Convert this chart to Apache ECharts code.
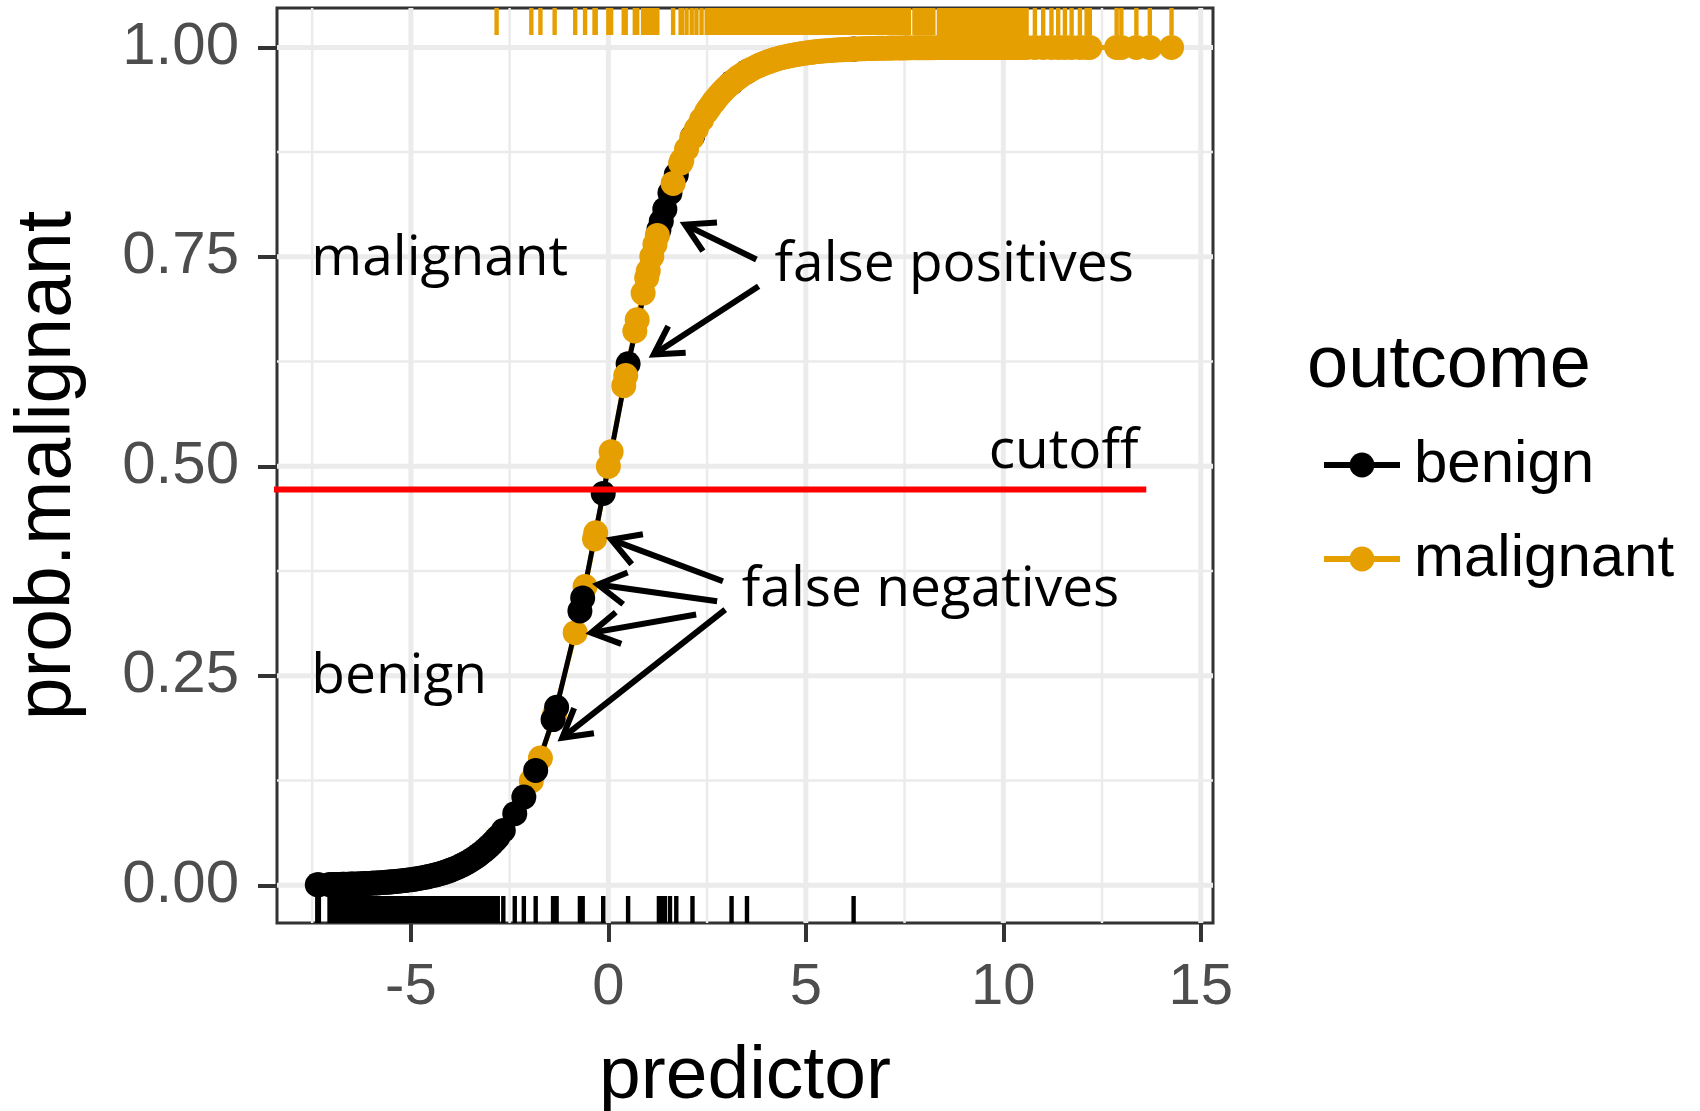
<!DOCTYPE html>
<html>
<head>
<meta charset="utf-8">
<script src="https://cdn.jsdelivr.net/npm/echarts@6/dist/echarts.min.js"></script>
<style>html,body{margin:0;padding:0;background:#fff;}#chart{width:1700px;height:1111px;}</style>
</head>
<body>
<div id="chart"></div>
<script>
// ---------- data: [predictor, prob.malignant] ----------
const benignPoints = [
  [-7.37,0.00063],[-7.33,0.00066],[-7.06,0.00086],[-6.97,0.00094],[-6.91,0.00100],[-6.83,0.00108],
  [-6.74,0.00118],[-6.69,0.00124],[-6.6,0.00136],[-6.52,0.00147],[-6.47,0.00155],[-6.38,0.00169],
  [-6.3,0.00183],[-6.22,0.00199],[-6.17,0.00209],[-6.08,0.00228],[-6.0,0.00247],[-5.93,0.00265],
  [-5.85,0.00287],[-5.79,0.00305],[-5.7,0.00334],[-5.63,0.00358],[-5.55,0.00387],[-5.49,0.00411],
  [-5.4,0.00450],[-5.33,0.00482],[-5.26,0.00517],[-5.18,0.00560],[-5.11,0.00600],[-5.03,0.00650],
  [-4.95,0.00703],[-4.9,0.00739],[-4.81,0.00808],[-4.74,0.00867],[-4.66,0.00938],[-4.59,0.01005],
  [-4.52,0.01078],[-4.44,0.01166],[-4.37,0.01250],[-4.29,0.01352],[-4.22,0.01449],[-4.15,0.01552],
  [-4.06,0.01696],[-3.99,0.01816],[-3.92,0.01946],[-3.84,0.02104],[-3.77,0.02253],[-3.69,0.02437],
  [-3.62,0.02609],[-3.55,0.02794],[-3.47,0.03019],[-3.4,0.03230],[-3.32,0.03489],[-3.25,0.03732],
  [-3.17,0.04031],[-3.1,0.04311],[-3.03,0.04608],[-2.95,0.04974],[-2.88,0.05315],[-2.8,0.05732],
  [-2.66,0.06538],[-2.37,0.08549],[-2.14,0.10527],[-1.84,0.13705],[-1.4,0.19781],[-1.31,0.21248],
  [-0.72,0.32740],[-0.65,0.34300],[-0.13,0.46755],[0.5,0.62246],[1.28,0.78245],[1.34,0.79248],
  [1.43,0.80690],[1.56,0.82636],[1.72,0.84813],[2.13,0.89362],[3.12,0.95771],[3.51,0.97097],
  [6.21,0.99800]
];
const malignantPoints = [
  [-2.83,0.0557],[-1.95,0.1246],[-1.72,0.1519],[-1.36,0.2042],[-0.84,0.3015],[-0.59,0.3566],
  [-0.35,0.4134],[-0.32,0.4207],[0.0,0.5],[0.07,0.5175],[0.39,0.5963],[0.44,0.6083],
  [0.67,0.6615],[0.73,0.6748],[0.88,0.7068],[0.97,0.7251],[1.01,0.7330],[1.1,0.7503],
  [1.18,0.7649],[1.24,0.7756],[1.64,0.8376],[1.83,0.8618],[1.86,0.8653],[1.98,0.8787],
  [2.11,0.8919],[2.23,0.9029],[2.36,0.9137],[2.49,0.9234],[2.56,0.9282],[2.65,0.9340],
  [2.71,0.9376],[2.8,0.9427],[2.88,0.9468],[2.95,0.9503],[3.04,0.9543],[3.1,0.9569],
  [3.19,0.9605],[3.27,0.9634],[3.33,0.9654],[3.42,0.9683],[3.5,0.9707],[3.58,0.9729],
  [3.66,0.9749],[3.76,0.9772],[3.83,0.9788],[3.91,0.9804],[4.01,0.9822],[4.08,0.9834],
  [4.17,0.9848],[4.24,0.9858],[4.33,0.9870],[4.4,0.9879],[4.49,0.9889],[4.57,0.9897],
  [4.64,0.9904],[4.73,0.9913],[4.81,0.9919],[4.88,0.9925],[4.97,0.9931],[5.05,0.9936],
  [5.13,0.9941],[5.2,0.9945],[5.29,0.9950],[5.37,0.9954],[5.44,0.9957],[5.53,0.9960],
  [5.61,0.9964],[5.68,0.9966],[5.77,0.9969],[5.85,0.9971],[5.93,0.9973],[6.0,0.9975],
  [6.09,0.9977],[6.17,0.9979],[6.24,0.9981],[6.33,0.9982],[6.41,0.9984],[6.48,0.9985],
  [6.57,0.9986],[6.65,0.9987],[6.72,0.9988],[6.81,0.9989],[6.89,0.9990],[6.96,0.9991],
  [7.05,0.9991],[7.13,0.9992],[7.2,0.9993],[7.29,0.9993],[7.37,0.9994],[7.44,0.9994],
  [7.53,0.9995],[7.61,0.9995],[7.75,0.9996],[7.83,0.9996],[7.9,0.9996],[7.99,0.9997],
  [8.07,0.9997],[8.14,0.9997],[8.23,0.9997],[8.37,0.9998],[8.45,0.9998],[8.53,0.9998],
  [8.6,0.9998],[8.69,0.9998],[8.77,0.9998],[8.84,0.9999],[8.93,0.9999],[9.01,0.9999],
  [9.08,0.9999],[9.17,0.9999],[9.25,0.9999],[9.32,0.9999],[9.41,0.9999],[9.49,0.9999],
  [9.56,0.9999],[9.65,0.9999],[9.73,0.9999],[9.8,0.9999],[9.89,0.9999],[9.97,1],
  [10.04,1],[10.13,1],[10.21,1],[10.28,1],[10.37,1],[10.45,1],[10.52,1],[10.59,1],
  [10.8,1],[11.01,1],[11.22,1],[11.39,1],[11.56,1],[11.73,1],[11.94,1],[12.11,1],
  [12.19,1],[12.87,1],[12.99,1],[13.37,1],[13.71,1],[14.26,1]
];
const xTickLabels = [-5, 0, 5, 10, 15];
const xMinorBreaks = [-7.5, -2.5, 2.5, 7.5, 12.5];
const yTickLabels = [0, 0.25, 0.5, 0.75, 1];
const yMinorBreaks = [0.125, 0.375, 0.625, 0.875];
const xLimits = [-8.39, 15.31];
const yLimits = [-0.045, 1.047];
const cutoffLine = [[-8.48, 0.4725], [13.62, 0.4725]];
const annotationLabels = ['malignant', 'benign', 'false positives', 'cutoff', 'false negatives'];
const annotationPositions = [[-7.52, 0.7474], [-7.52, 0.2482], [4.21, 0.7399], [9.63, 0.5172], [3.38, 0.3520]];
// arrows: [tailX, tailY, tipX, tipY]
const annotationArrows = [
  [3.749, 0.7468, 1.942, 0.7885],
  [3.805, 0.7149, 1.149, 0.6334],
  [2.901, 0.3629, 0.076, 0.4126],
  [2.754, 0.3390, -0.263, 0.3589],
  [2.223, 0.3232, -0.433, 0.3013],
  [2.959, 0.3291, -1.167, 0.1760]
];

const ORANGE = '#E69F00';
const SANS = '"Liberation Sans", Arial, sans-serif';
const chart = echarts.init(document.getElementById('chart'), null, {renderer: 'canvas'});

function gridRender(vertical) {
  return function (params, api) {
    const cs = params.coordSys;
    const major = api.value(2) === 1;
    const lw = major ? 5 : 2.5;
    if (vertical) {
      const x = api.coord([api.value(0), 0])[0];
      return {type: 'line', shape: {x1: x, y1: cs.y, x2: x, y2: cs.y + cs.height},
              style: {stroke: '#EBEBEB', lineWidth: lw}};
    }
    const y = api.coord([0, api.value(1)])[1];
    return {type: 'line', shape: {x1: cs.x, y1: y, x2: cs.x + cs.width, y2: y},
            style: {stroke: '#EBEBEB', lineWidth: lw}};
  };
}
function rugRender(color, top) {
  return function (params, api) {
    const cs = params.coordSys;
    const x = api.coord([api.value(0), 0])[0];
    const len = 27;
    const y0 = top ? cs.y : cs.y + cs.height - len;
    return {type: 'rect', shape: {x: x - 2.2, y: y0, width: 4.4, height: len}, style: {fill: color}};
  };
}

// malignant points left of the curve's middle are overplotted by benign points in the picture
const malignantUnder = malignantPoints.filter(p => p[0] < 0.3);
const malignantOver = malignantPoints.filter(p => p[0] >= 0.3);

const option = {
  animation: false,
  backgroundColor: '#ffffff',
  title: {
    text: 'outcome', left: 1302, top: 325,
    textStyle: {fontSize: 74, fontWeight: 'normal', color: '#000', fontFamily: SANS}
  },
  legend: {
    data: ['benign', 'malignant'], orient: 'vertical', left: 1316, top: 430,
    itemWidth: 76, itemHeight: 31, itemGap: 34, selectedMode: false,
    lineStyle: {width: 6},
    textStyle: {fontSize: 60, color: '#000', fontFamily: SANS, padding: [0, 0, 0, 9]}
  },
  grid: {left: 277, right: 487, top: 8, bottom: 188, show: true, borderColor: '#333333', borderWidth: 3,
         backgroundColor: '#fff', containLabel: false, outerBoundsMode: 'none'},
  xAxis: {
    type: 'value', min: xLimits[0], max: xLimits[1],
    axisLine: {show: false, onZero: false},
    axisTick: {show: true, customValues: xTickLabels, length: 19, lineStyle: {color: '#333', width: 4}},
    axisLabel: {customValues: xTickLabels, margin: 36, fontSize: 58, color: '#4D4D4D', fontFamily: SANS},
    splitLine: {show: false},
    name: 'predictor', nameLocation: 'middle', nameGap: 117,
    nameTextStyle: {fontSize: 75, color: '#000', fontFamily: SANS}
  },
  yAxis: {
    type: 'value', min: yLimits[0], max: yLimits[1],
    axisLine: {show: false, onZero: false},
    axisTick: {show: true, customValues: yTickLabels, length: 19, lineStyle: {color: '#333', width: 4}},
    axisLabel: {customValues: yTickLabels, margin: 38, fontSize: 60, color: '#4D4D4D', fontFamily: SANS,
                formatter: v => Number(v).toFixed(2)},
    splitLine: {show: false},
    name: 'prob.malignant', nameLocation: 'middle', nameGap: 190, nameRotate: 90,
    nameTextStyle: {fontSize: 77, color: '#000', fontFamily: SANS}
  },
  series: [
    {type: 'custom', name: 'gridV', silent: true, z: 0, renderItem: gridRender(true),
     data: xMinorBreaks.map(v => [v, 0, 0]).concat(xTickLabels.map(v => [v, 0, 1]))},
    {type: 'custom', name: 'gridH', silent: true, z: 0, renderItem: gridRender(false),
     data: yMinorBreaks.map(v => [0, v, 0]).concat(yTickLabels.map(v => [0, v, 1]))},
    {type: 'custom', name: 'rugBenign', silent: true, z: 1, renderItem: rugRender('#000000', false), data: benignPoints},
    {type: 'custom', name: 'rugMalignant', silent: true, z: 1, renderItem: rugRender(ORANGE, true), data: malignantPoints},
    {type: 'line', name: 'malignant', data: malignantPoints, showSymbol: false, symbol: 'circle', z: 2,
     lineStyle: {color: ORANGE, width: 5}, itemStyle: {color: ORANGE}, silent: true},
    {type: 'line', name: 'benign', data: benignPoints, showSymbol: false, symbol: 'circle', z: 2,
     lineStyle: {color: '#000', width: 5}, itemStyle: {color: '#000'}, silent: true},
    {type: 'scatter', name: 'malignant points (under)', data: malignantUnder, symbolSize: 25, z: 3,
     itemStyle: {color: ORANGE, opacity: 1}, silent: true},
    {type: 'scatter', name: 'benign points', data: benignPoints, symbolSize: 25, z: 3,
     itemStyle: {color: '#000', opacity: 1}, silent: true},
    {type: 'scatter', name: 'malignant points', data: malignantOver, symbolSize: 25, z: 3,
     itemStyle: {color: ORANGE, opacity: 1}, silent: true},
    {type: 'line', name: 'cutoff', data: cutoffLine, showSymbol: false, clip: false, z: 4, silent: true,
     lineStyle: {color: '#FF0000', width: 6}},
    {type: 'custom', name: 'arrows', silent: true, z: 5, data: annotationArrows,
     renderItem: function (params, api) {
       const a = api.coord([api.value(0), api.value(1)]);
       const b = api.coord([api.value(2), api.value(3)]);
       const ang = Math.atan2(a[1] - b[1], a[0] - b[0]);
       const L = 32, spread = Math.PI / 6;
       const h1 = [b[0] + L * Math.cos(ang + spread), b[1] + L * Math.sin(ang + spread)];
       const h2 = [b[0] + L * Math.cos(ang - spread), b[1] + L * Math.sin(ang - spread)];
       const st = {stroke: '#000', lineWidth: 6, fill: null, lineJoin: 'miter'};
       return {type: 'group', children: [
         {type: 'polyline', shape: {points: [a, b]}, style: st},
         {type: 'polyline', shape: {points: [h1, b, h2]}, style: st}
       ]};
     }},
    {type: 'custom', name: 'annotations', silent: true, z: 6, data: annotationPositions,
     renderItem: function (params, api) {
       const p = api.coord([api.value(0), api.value(1)]);
       return {type: 'text', x: p[0], y: p[1], style: {
         text: annotationLabels[params.dataIndex], fontSize: 55, fontFamily: '"Open Sans", sans-serif',
         fill: '#000', align: 'left', verticalAlign: 'middle'}};
     }}
  ]
};
chart.setOption(option);
</script>
</body>
</html>
